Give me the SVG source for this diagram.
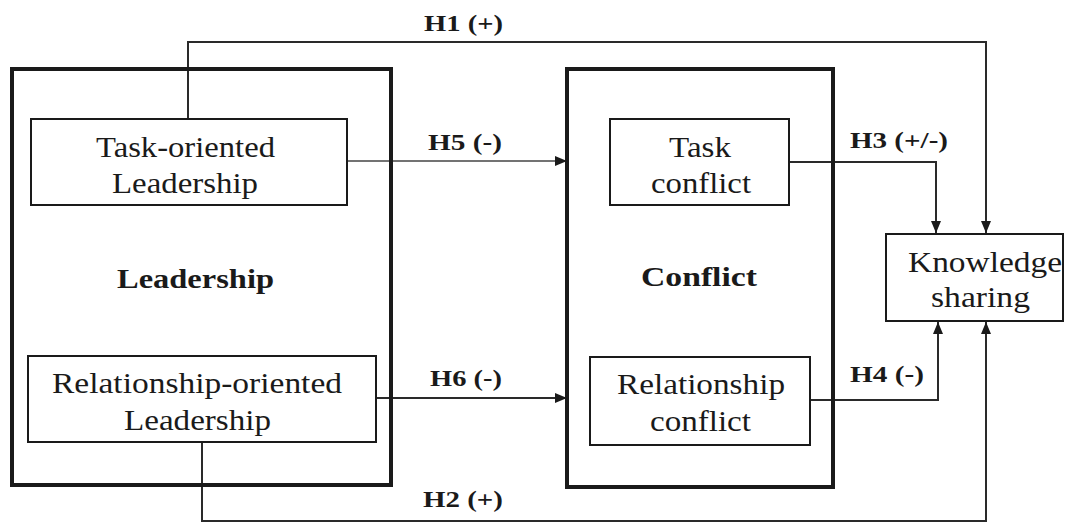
<svg xmlns="http://www.w3.org/2000/svg" width="1073" height="523" viewBox="0 0 1073 523">
<style>
.outer{fill:none;stroke:#1a1a1a;stroke-width:4}
.box{fill:#fff;stroke:#1a1a1a;stroke-width:2}
.t{font-family:"Liberation Serif","Times New Roman",serif;font-size:30px;fill:#1a1a1a}
.b{font-family:"Liberation Serif","Times New Roman",serif;font-size:27px;font-weight:bold;fill:#1a1a1a}
.h{font-family:"Liberation Serif","Times New Roman",serif;font-size:24px;font-weight:bold;fill:#1a1a1a}
.c{fill:none;stroke:#2a2a2a;stroke-width:2}
.c1{fill:none;stroke:#444;stroke-width:1.5}
</style>
<defs>
<marker id="ah" viewBox="0 0 12 10" refX="12" refY="5" markerWidth="12" markerHeight="10" markerUnits="userSpaceOnUse" orient="auto">
<path d="M0,0 L12,5 L0,10 Z" fill="#1a1a1a"/>
</marker>
</defs>
<rect width="1073" height="523" fill="#fff"/>
<g id="connectors">
<path class="c" d="M188,119 V42 H986 V233" marker-end="url(#ah)"/>
<path class="c1" d="M347,161 H567" marker-end="url(#ah)"/>
<path class="c" d="M789,162 H936 V233" marker-end="url(#ah)"/>
<path class="c" d="M376,398 H567" marker-end="url(#ah)"/>
<path class="c" d="M810,400 H938 V322" marker-end="url(#ah)"/>
<path class="c" d="M202,442 V521 H986 V322" marker-end="url(#ah)"/>
</g>
<g id="leadership">
<rect class="outer" x="12" y="69" width="379" height="416"/>
<text class="b" x="117" y="288" textLength="157" lengthAdjust="spacingAndGlyphs">Leadership</text>
</g>
<g id="conflict">
<rect class="outer" x="567" y="69" width="266" height="418"/>
<text class="b" x="641" y="286" textLength="116" lengthAdjust="spacingAndGlyphs">Conflict</text>
</g>
<g id="task-oriented">
<rect class="box" x="31" y="119" width="316" height="86"/>
<text class="t" x="96" y="157" textLength="179" lengthAdjust="spacingAndGlyphs">Task-oriented</text>
<text class="t" x="112" y="193" textLength="146" lengthAdjust="spacingAndGlyphs">Leadership</text>
</g>
<g id="relationship-oriented">
<rect class="box" x="28" y="356" width="348" height="86"/>
<text class="t" x="52" y="393" textLength="290" lengthAdjust="spacingAndGlyphs">Relationship-oriented</text>
<text class="t" x="124" y="430" textLength="147" lengthAdjust="spacingAndGlyphs">Leadership</text>
</g>
<g id="task-conflict">
<rect class="box" x="610" y="119" width="179" height="86"/>
<text class="t" x="669" y="157" textLength="62" lengthAdjust="spacingAndGlyphs">Task</text>
<text class="t" x="651" y="193" textLength="100" lengthAdjust="spacingAndGlyphs">conflict</text>
</g>
<g id="relationship-conflict">
<rect class="box" x="590" y="357" width="220" height="88"/>
<text class="t" x="617" y="394" textLength="168" lengthAdjust="spacingAndGlyphs">Relationship</text>
<text class="t" x="650" y="431" textLength="101" lengthAdjust="spacingAndGlyphs">conflict</text>
</g>
<g id="knowledge-sharing">
<rect class="box" x="886" y="234" width="177" height="87" stroke-width="1.5"/>
<text class="t" x="908" y="272" textLength="154" lengthAdjust="spacingAndGlyphs">Knowledge</text>
<text class="t" x="931" y="307" textLength="99" lengthAdjust="spacingAndGlyphs">sharing</text>
</g>
<g id="labels">
<text class="h" x="424" y="31" textLength="79" lengthAdjust="spacingAndGlyphs">H1 (+)</text>
<text class="h" x="428" y="150" textLength="74" lengthAdjust="spacingAndGlyphs">H5 (-)</text>
<text class="h" x="850" y="148" textLength="98" lengthAdjust="spacingAndGlyphs">H3 (+/-)</text>
<text class="h" x="430" y="386" textLength="72" lengthAdjust="spacingAndGlyphs">H6 (-)</text>
<text class="h" x="850" y="382" textLength="74" lengthAdjust="spacingAndGlyphs">H4 (-)</text>
<text class="h" x="423" y="507" textLength="80" lengthAdjust="spacingAndGlyphs">H2 (+)</text>
</g>
</svg>
